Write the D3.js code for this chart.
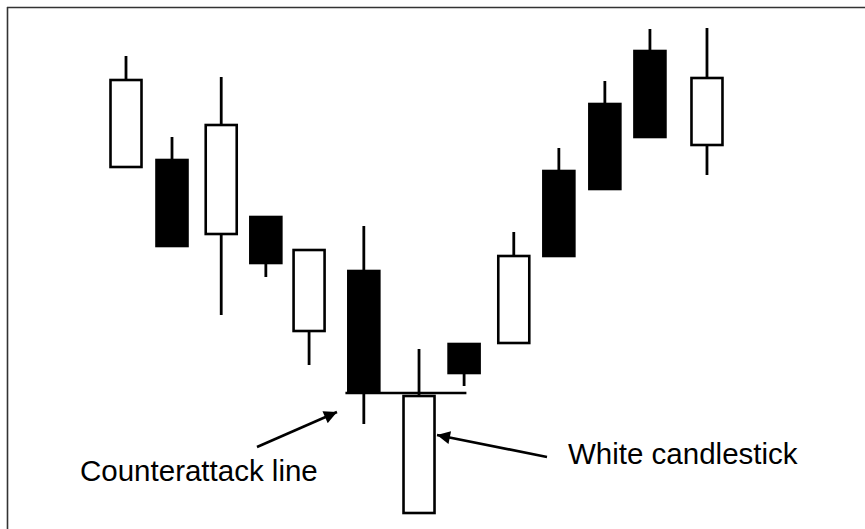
<!DOCTYPE html>
<html>
<head>
<meta charset="utf-8">
<script src="https://cdn.jsdelivr.net/npm/d3@7"></script>
<style>
  body { margin: 0; background: #fff; }
  svg { display: block; }
  text { font-family: "Liberation Sans", Arial, sans-serif; }
</style>
</head>
<body>
<div id="chart"></div>
<script>
// session positions (irregular spacing, as drawn)
var sessions = [0, 1, 2.07, 3.04, 3.98, 5.17, 6.37, 7.35, 8.43, 9.41, 10.41, 11.39, 12.63];
var opens  = [74.6, 76.0, 61.2, 64.6, 41.8, 53.8,  5.4, 39.2, 39.4, 73.8, 87.2, 97.8, 79.0];
var closes = [92.0, 58.8, 83.0, 55.4, 58.0, 29.6, 28.8, 33.4, 56.8, 56.8, 70.2, 80.6, 92.4];
var highs  = [96.8, 80.6, 92.6, 64.6, 58.0, 62.8, 38.2, 39.2, 61.6, 78.4, 91.8, 102.2, 102.4];
var lows   = [74.6, 58.8, 45.0, 52.6, 35.0, 23.2,  5.4, 30.8, 39.4, 56.8, 70.2, 80.6, 73.0];

// counterattack level and its span in session units
var counterLevel = 29.4;
var counterSpan = [4.77, 7.4];

var labels = ["Counterattack line", "White candlestick"];

var width = 865, height = 529;

var svg = d3.select("#chart").append("svg")
  .attr("width", width)
  .attr("height", height);

var x = d3.scaleLinear().domain([0, 1]).range([126, 172]);
var y = d3.scaleLinear().domain([0, 100]).range([540, 40]);

var bodyW = 31;

// frame (top and left edges only)
svg.append("line")
  .attr("x1", 7).attr("y1", 7.5).attr("x2", width).attr("y2", 7.5)
  .attr("stroke", "#333").attr("stroke-width", 1.6);
svg.append("line")
  .attr("x1", 7.5).attr("y1", 7).attr("x2", 7.5).attr("y2", height)
  .attr("stroke", "#333").attr("stroke-width", 1.6);

var data = sessions.map(function(s, i) {
  return { s: s, o: opens[i], c: closes[i], h: highs[i], l: lows[i] };
});

var g = svg.selectAll(".candle")
  .data(data)
.enter().append("g")
  .attr("class", "candle");

g.append("line")
  .attr("x1", function(d) { return x(d.s); })
  .attr("x2", function(d) { return x(d.s); })
  .attr("y1", function(d) { return y(d.h); })
  .attr("y2", function(d) { return y(d.l); })
  .attr("stroke", "#000")
  .attr("stroke-width", 2.8);

g.append("rect")
  .attr("x", function(d) { return x(d.s) - bodyW / 2; })
  .attr("width", bodyW)
  .attr("y", function(d) { return y(Math.max(d.o, d.c)); })
  .attr("height", function(d) { return Math.abs(y(d.o) - y(d.c)); })
  .attr("fill", function(d) { return d.c > d.o ? "#fff" : "#000"; })
  .attr("stroke", "#000")
  .attr("stroke-width", 2.6);

// counterattack line
svg.append("line")
  .attr("x1", x(counterSpan[0]))
  .attr("x2", x(counterSpan[1]))
  .attr("y1", y(counterLevel))
  .attr("y2", y(counterLevel))
  .attr("stroke", "#000")
  .attr("stroke-width", 2.6);

// arrows
svg.append("defs").append("marker")
  .attr("id", "head")
  .attr("viewBox", "0 0 10 10")
  .attr("refX", 10).attr("refY", 5)
  .attr("markerUnits", "userSpaceOnUse")
  .attr("markerWidth", 15).attr("markerHeight", 13)
  .attr("orient", "auto")
.append("path")
  .attr("d", "M0,0 L10,5 L0,10 z")
  .attr("fill", "#000");

var arrows = [
  { from: [257, 447], to: [337, 412] },
  { from: [547, 457], to: [437, 435] }
];

svg.selectAll(".arrow")
  .data(arrows)
.enter().append("line")
  .attr("class", "arrow")
  .attr("x1", function(d) { return d.from[0]; })
  .attr("y1", function(d) { return d.from[1]; })
  .attr("x2", function(d) { return d.to[0]; })
  .attr("y2", function(d) { return d.to[1]; })
  .attr("stroke", "#000")
  .attr("stroke-width", 2.6)
  .attr("marker-end", "url(#head)");

svg.append("text")
  .attr("x", 80).attr("y", 481)
  .attr("font-size", 29.5)
  .attr("fill", "#000")
  .text(labels[0]);

svg.append("text")
  .attr("x", 568).attr("y", 464)
  .attr("font-size", 29.5)
  .attr("fill", "#000")
  .text(labels[1]);
</script>
</body>
</html>
